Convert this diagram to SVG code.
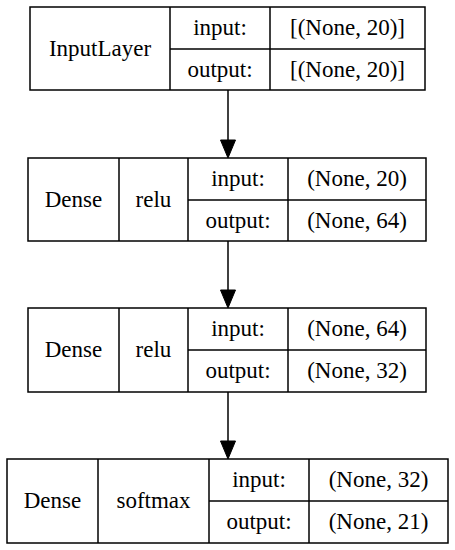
<svg xmlns="http://www.w3.org/2000/svg" width="455" height="550" viewBox="0 0 455 550">
<style>
.box{fill:#fff;stroke:#000;stroke-width:1.5}
.ln{stroke:#000;stroke-width:1.5;fill:none}
.t{font-family:"Liberation Serif","Times New Roman",serif;font-size:23px;fill:#000;text-anchor:middle}
.edge{stroke:#000;stroke-width:1.5;fill:none}
.head{fill:#000;stroke:#000;stroke-width:1}
</style>
<rect width="455" height="550" fill="#fff"/>
<g id="connectors">
<line class="edge" x1="228" y1="90" x2="228" y2="141"/>
<polygon class="head" points="220.5,140 235.5,140 228,158"/>
<line class="edge" x1="228" y1="241" x2="228" y2="291"/>
<polygon class="head" points="220.5,290 235.5,290 228,308"/>
<line class="edge" x1="228" y1="392" x2="228" y2="442"/>
<polygon class="head" points="220.5,441 235.5,441 228,459"/>
</g>
<g id="node-input">
<rect class="box" x="30" y="7" width="395" height="83"/>
<line class="ln" x1="170" y1="7" x2="170" y2="90"/>
<line class="ln" x1="270" y1="7" x2="270" y2="90"/>
<line class="ln" x1="170" y1="49" x2="425" y2="49"/>
<text class="t" x="100" y="56">InputLayer</text>
<text class="t" x="220" y="35">input:</text>
<text class="t" x="220" y="77">output:</text>
<text class="t" x="347.5" y="35">[(None, 20)]</text>
<text class="t" x="347.5" y="77">[(None, 20)]</text>
</g>
<g id="node-dense1">
<rect class="box" x="28" y="158" width="398" height="83"/>
<line class="ln" x1="119" y1="158" x2="119" y2="241"/>
<line class="ln" x1="188" y1="158" x2="188" y2="241"/>
<line class="ln" x1="288" y1="158" x2="288" y2="241"/>
<line class="ln" x1="188" y1="200" x2="426" y2="200"/>
<text class="t" x="73.5" y="207">Dense</text>
<text class="t" x="153.5" y="207">relu</text>
<text class="t" x="238" y="186">input:</text>
<text class="t" x="238" y="228">output:</text>
<text class="t" x="357" y="186">(None, 20)</text>
<text class="t" x="357" y="228">(None, 64)</text>
</g>
<g id="node-dense2">
<rect class="box" x="28" y="308" width="398" height="84"/>
<line class="ln" x1="119" y1="308" x2="119" y2="392"/>
<line class="ln" x1="188" y1="308" x2="188" y2="392"/>
<line class="ln" x1="288" y1="308" x2="288" y2="392"/>
<line class="ln" x1="188" y1="350" x2="426" y2="350"/>
<text class="t" x="73.5" y="357">Dense</text>
<text class="t" x="153.5" y="357">relu</text>
<text class="t" x="238" y="336">input:</text>
<text class="t" x="238" y="378">output:</text>
<text class="t" x="357" y="336">(None, 64)</text>
<text class="t" x="357" y="378">(None, 32)</text>
</g>
<g id="node-dense3">
<rect class="box" x="7" y="459" width="441" height="84"/>
<line class="ln" x1="98" y1="459" x2="98" y2="543"/>
<line class="ln" x1="209" y1="459" x2="209" y2="543"/>
<line class="ln" x1="309" y1="459" x2="309" y2="543"/>
<line class="ln" x1="209" y1="501" x2="448" y2="501"/>
<text class="t" x="52.5" y="508">Dense</text>
<text class="t" x="153.5" y="508">softmax</text>
<text class="t" x="259" y="487">input:</text>
<text class="t" x="259" y="529">output:</text>
<text class="t" x="378.5" y="487">(None, 32)</text>
<text class="t" x="378.5" y="529">(None, 21)</text>
</g>
</svg>
